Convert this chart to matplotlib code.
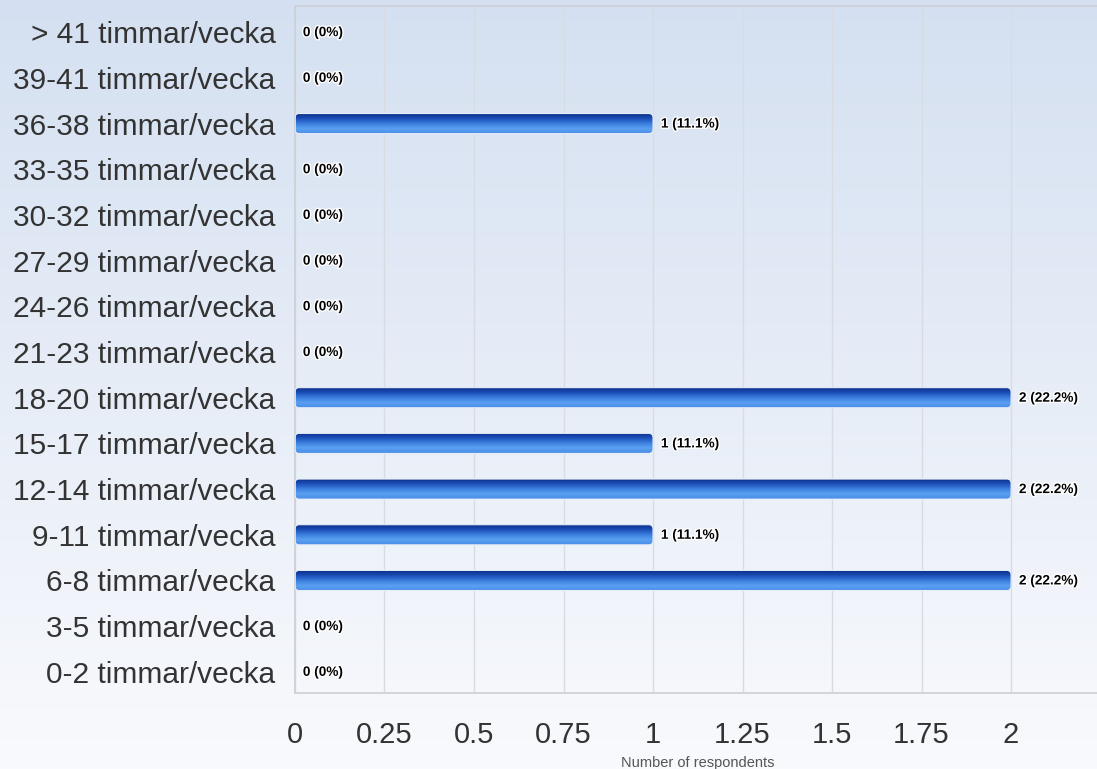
import matplotlib.pyplot as plt
import numpy as np
from matplotlib.colors import LinearSegmentedColormap
from matplotlib.patches import FancyBboxPatch
import matplotlib.patheffects as pe

categories = ["> 41 timmar/vecka", "39-41 timmar/vecka", "36-38 timmar/vecka",
              "33-35 timmar/vecka", "30-32 timmar/vecka", "27-29 timmar/vecka",
              "24-26 timmar/vecka", "21-23 timmar/vecka", "18-20 timmar/vecka",
              "15-17 timmar/vecka", "12-14 timmar/vecka", "9-11 timmar/vecka",
              "6-8 timmar/vecka", "3-5 timmar/vecka", "0-2 timmar/vecka"]
counts = [0, 0, 1, 0, 0, 0, 0, 0, 2, 1, 2, 1, 2, 0, 0]
percents = ["0%", "0%", "11.1%", "0%", "0%", "0%", "0%", "0%", "22.2%",
            "11.1%", "22.2%", "11.1%", "22.2%", "0%", "0%"]
xticks = [0, 0.25, 0.5, 0.75, 1, 1.25, 1.5, 1.75, 2]
xtick_labels = ["0", "0.25", "0.5", "0.75", "1", "1.25", "1.5", "1.75", "2"]

plt.rcParams['font.family'] = ['Liberation Sans', 'DejaVu Sans']

fig = plt.figure(figsize=(10.97, 7.69), dpi=100)

# background gradient over the whole figure
bg = fig.add_axes([0, 0, 1, 1], zorder=-10)
bg_cmap = LinearSegmentedColormap.from_list("bg", ["#d4e0f1", "#f9fafd"])
bg.imshow(np.linspace(0, 1, 256).reshape(-1, 1), aspect='auto', cmap=bg_cmap,
          extent=[0, 1, 0, 1], origin='upper')
bg.set_axis_off()

ax = fig.add_axes([0.2689, 0.099, 0.7311, 0.893])
ax.patch.set_alpha(0)

n = len(categories)
ypos = np.arange(n)
ax.set_ylim(n - 0.54, -0.57)
ax.set_xlim(0, 2.24)

bar_cmap = LinearSegmentedColormap.from_list(
    "bar", ["#0a2c86", "#1a4cb6", "#3a7ddc", "#5aa0f2", "#4a8de6"])
grad = np.linspace(0, 1, 64).reshape(-1, 1)
bar_h = 0.44

for y, c in zip(ypos, counts):
    if c > 0:
        box = FancyBboxPatch((0, y - bar_h / 2), c, bar_h,
                             boxstyle="round,pad=0,rounding_size=0.012",
                             mutation_aspect=8,
                             facecolor="none", edgecolor="#e8eef8",
                             linewidth=0.8, zorder=3)
        ax.add_patch(box)
        im = ax.imshow(grad, aspect='auto', cmap=bar_cmap,
                       extent=[0, c, y + bar_h / 2, y - bar_h / 2],
                       origin='upper', zorder=2)
        im.set_clip_path(box)
    ax.text(c + 0.022, y, f"{c} ({percents[y]})", va='center', ha='left',
            fontsize=9.8, fontweight='bold', color='black', zorder=5,
            path_effects=[pe.withStroke(linewidth=2, foreground='white')])

ax.set_yticks(ypos)
ax.set_yticklabels(categories, fontsize=21.5, color='#333333')
ax.set_xticks(xticks)
ax.set_xticklabels(xtick_labels, fontsize=21, color='#333333')
ax.tick_params(axis='y', length=0, pad=14)
ax.tick_params(axis='x', length=0, pad=20)

ax.grid(axis='x', color='#d8dce2', linewidth=1, zorder=0)
ax.set_axisbelow(True)
ax.spines['right'].set_visible(False)
for side in ['left', 'bottom', 'top']:
    ax.spines[side].set_color('#ccd0d6')
    ax.spines[side].set_linewidth(1.2)

ax.set_xlabel("Number of respondents", fontsize=10.5, color='#555555')
ax.xaxis.set_label_coords((698 - 295) / (1097 - 295), -0.092)

fig.savefig("out.png", dpi=100)
